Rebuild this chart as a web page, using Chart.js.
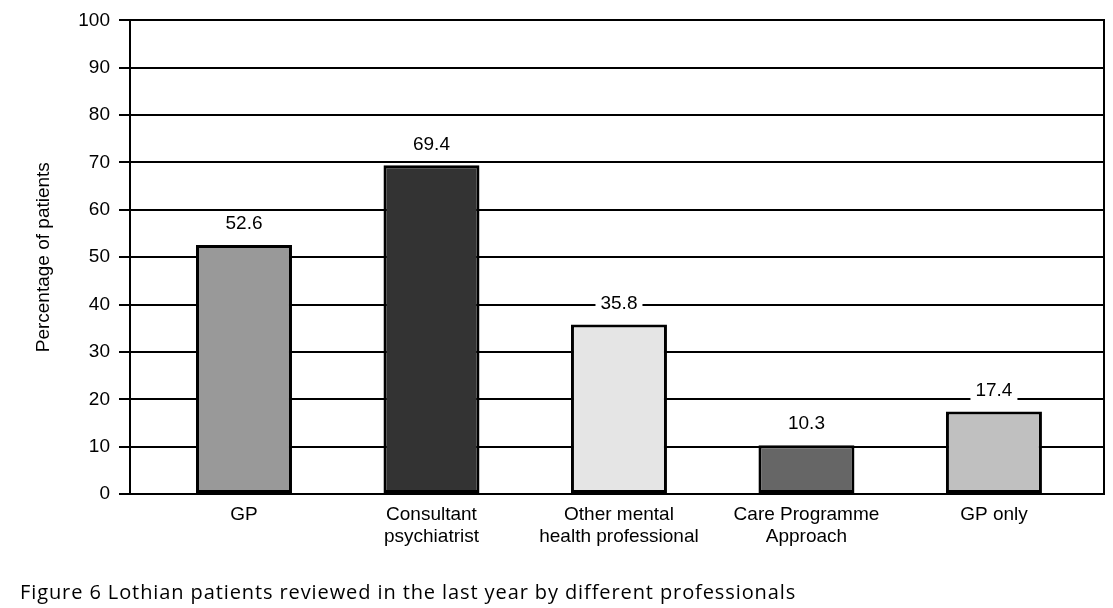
<!DOCTYPE html>
<html>
<head>
<meta charset="utf-8">
<script src="https://cdn.jsdelivr.net/npm/chart.js@4"></script>
<style>
  html, body { margin: 0; padding: 0; background: #fff; }
  #wrap { position: relative; width: 1113px; height: 608px; }
  #caption {
    position: absolute; left: 20px; top: 578px;
    font-family: "Open Sans", sans-serif; font-size: 20px; color: #000;
    letter-spacing: 0.9px; white-space: pre;
  }
</style>
</head>
<body>
<div id="wrap">
  <canvas id="chart" width="1113" height="608"></canvas>
  <div id="caption">Figure 6 Lothian patients reviewed in the last year by different professionals</div>
</div>
<script>
// data
const categories = [
  ['GP'],
  ['Consultant', 'psychiatrist'],
  ['Other mental', 'health professional'],
  ['Care Programme', 'Approach'],
  ['GP only']
];
const values = [52.6, 69.4, 35.8, 10.3, 17.4];
const barColors = ['#999999', '#333333', '#e5e5e5', '#666666', '#c0c0c0'];
const yTicks = [0, 10, 20, 30, 40, 50, 60, 70, 80, 90, 100];

const font = { family: '"Liberation Sans", Arial, sans-serif', size: 19 };

// value above each bar, on a white patch that breaks the gridline
const valueLabels = {
  id: 'valueLabels',
  afterDatasetsDraw(chart) {
    const ctx = chart.ctx;
    const meta = chart.getDatasetMeta(0);
    ctx.save();
    ctx.font = font.size + 'px ' + font.family;
    ctx.textAlign = 'center';
    ctx.textBaseline = 'middle';
    meta.data.forEach((bar, i) => {
      const txt = values[i].toFixed(1);
      const w = ctx.measureText(txt).width;
      const y = bar.y - 21;
      ctx.fillStyle = '#fff';
      ctx.fillRect(bar.x - w / 2 - 5, y - 10, w + 10, 20);
      ctx.fillStyle = '#000';
      ctx.fillText(txt, bar.x, y);
    });
    ctx.restore();
  }
};

new Chart(document.getElementById('chart'), {
  type: 'bar',
  data: {
    datasets: [{
      data: values.map((v, i) => ({ x: i + 1, y: v })),
      backgroundColor: barColors,
      borderColor: '#000',
      borderWidth: 3,
      borderSkipped: false,
      barPercentage: 0.512,
      categoryPercentage: 1
    }]
  },
  options: {
    responsive: false,
    animation: false,
    layout: { padding: { top: 20, bottom: 54, left: 0, right: 0 } },
    plugins: { legend: { display: false }, tooltip: { enabled: false } },
    scales: {
      x: {
        type: 'linear',
        offset: false,
        min: 0.392,
        max: 5.587,
        afterBuildTicks: s => { s.ticks = categories.map((c, i) => ({ value: i + 1 })); },
        afterFit: s => { s.height = 60; },
        grid: { display: false },
        border: { display: false },
        ticks: {
          color: '#000',
          font: font,
          padding: 1,
          maxRotation: 0,
          autoSkip: false,
          callback: (v) => categories[v - 1]
        }
      },
      y: {
        min: 0,
        max: 100,
        afterBuildTicks: s => { s.ticks = yTicks.map(v => ({ value: v })); },
        afterFit: s => { s.width = 130; },
        grid: { color: '#000', lineWidth: 2, tickLength: 11, tickColor: '#000' },
        border: { display: true, color: '#000', width: 2 },
        ticks: { color: '#000', font: font, padding: 9 },
        title: {
          display: true,
          text: 'Percentage of patients',
          color: '#000',
          font: font,
          padding: { top: 32, bottom: 0 }
        }
      },
      y2: {
        position: 'right',
        min: 0,
        max: 100,
        afterFit: s => { s.width = 9; },
        grid: { display: false },
        ticks: { display: false },
        border: { display: true, color: '#000', width: 2 }
      }
    }
  },
  plugins: [valueLabels]
});
</script>
</body>
</html>
